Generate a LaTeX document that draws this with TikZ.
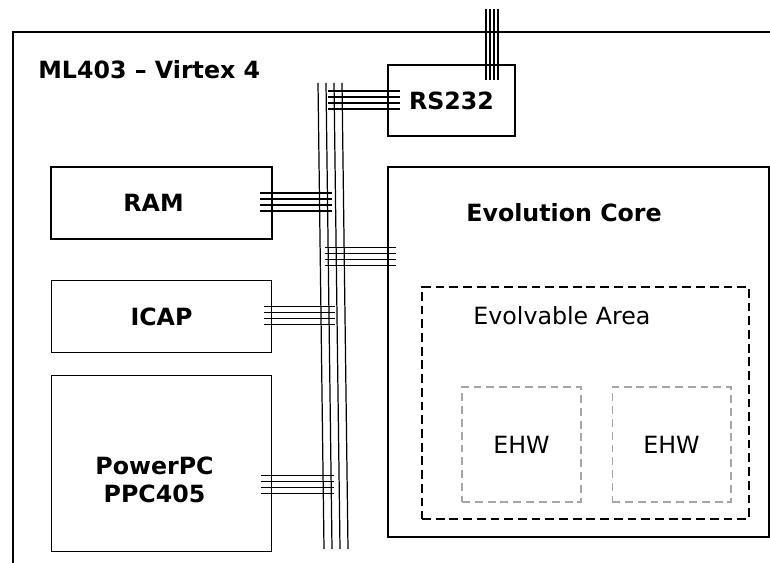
\documentclass[tikz,border=0pt]{standalone}
\usepackage{fontspec}
\setsansfont{DejaVu Sans}
\renewcommand{\familydefault}{\sfdefault}
\usetikzlibrary{positioning}
\newcommand{\labelsize}{\fontsize{13.5}{16}\selectfont}
\begin{document}
\begin{tikzpicture}[x=0.02cm, y=-0.02cm, font=\sffamily\labelsize, node distance=0.8cm]
        \tikzstyle{board}=[draw, line width=1.1pt, anchor=north west, minimum width=16cm, minimum height=12cm];
        \tikzstyle{block}=[draw, line width=0.8pt, inner sep=0pt, align=center, font=\sffamily\bfseries\labelsize];
        \tikzstyle{area}=[draw, line width=0.8pt, inner sep=0pt, dash pattern=on 5pt off 2.8pt];
        \tikzstyle{ehw}=[draw=gray!70, line width=0.6pt, inner sep=0pt, dash pattern=on 4.5pt off 2.8pt, minimum width=2.38cm, minimum height=2.3cm];
        \tikzstyle{title}=[anchor=west, inner sep=0pt];
        \tikzstyle{boldtitle}=[title, font=\sffamily\bfseries\labelsize];
        \tikzstyle{wire}=[line width=0.7pt];

        \useasboundingbox (0,0) rectangle (770,563);
        \clip (0,0) rectangle (770,563);

        % board
        \node[board] (board) at (12,31) {};
        \node[boldtitle] (boardname) at (38,70) {ML403 -- Virtex 4};

        % left column
        \node[block, minimum width=4.42cm, minimum height=1.44cm,
              label={[font=\sffamily\bfseries\labelsize, xshift=-0.16cm]center:RAM}] (ram) at (161.5,203) {};
        \node[block, minimum width=4.4cm, minimum height=1.44cm, below=0.8cm of ram] (icap) {ICAP};
        \node[block, minimum width=4.4cm, minimum height=3.52cm, below=0.44cm of icap,
              label={[font=\sffamily\bfseries\labelsize, align=center, xshift=-0.14cm, yshift=-0.32cm]center:PowerPC\\PPC405}] (ppc) {};

        % right column
        \node[block, minimum width=2.54cm, minimum height=1.42cm] (rs232) at (451.5,100.5) {RS232};
        \node[block, minimum width=7.62cm, minimum height=7.4cm] (core) at (578.5,352) {};
        \node[boldtitle] (corename) at (466,213) {Evolution Core};
        \node[area, minimum width=6.54cm, minimum height=4.64cm] (evo) at (585.5,403) {};
        \node[title] (evoname) at (473,316) {Evolvable Area};
        \node[ehw] (ehwa) at (521.5,444.5) {EHW};
        \node[ehw, right=0.6cm of ehwa] (ehwb) {EHW};

        % bus
        \coordinate (bus) at (318,83);
        \foreach \k in {0,...,3} \draw[wire] (bus) ++(8*\k,0) -- ++(6,466);

        % taps
        \foreach \k in {0,...,3} {
            \draw[wire] (ram.east) ++(-13,-10+6*\k) -- ++(72,0);
            \draw[wire] (icap.east) ++(-8,-10+6*\k) -- ++(71,0);
            \draw[wire] (ppc.east) ++(-11,12+6*\k) -- ++(73,0);
            \draw[wire] (core.north west) ++(-62,81+6*\k) -- ++(71,0);
            \draw[wire] (rs232.west) ++(-59,-9.5+6*\k) -- ++(72,0);
            \draw[wire] (rs232.north) ++(34.5+4*\k,-55) -- ++(0,71);
        }
    \end{tikzpicture}
\end{document}
